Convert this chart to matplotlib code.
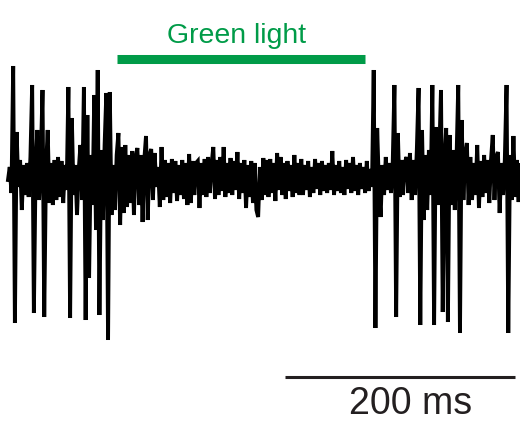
import numpy as np
import matplotlib
matplotlib.use("Agg")
import matplotlib.pyplot as plt

# extracellular trace, one sample every 1.5 ms (arbitrary units, 0 = baseline)
dt = 1.5
trace = [
    -5, 8, -18, 109, -148, 43, -12, 15, -35, 10,
    -20, 12, -22, 18, 90, -138, 8, 45, -25, 14,
    85, -142, 5, 45, -28, 12, -30, 15, -25, 18,
    -22, 14, -28, 10, -15, 88, -143, 57, -20, 10,
    -40, 5, 30, -25, 88, -145, 60, -103, 20, -30,
    80, -55, 105, -140, 25, -45, 30, 82, -165, 83,
    -40, 10, -35, 20, 42, -50, 28, -38, 30, -32,
    20, -28, 24, -40, 18, 27, -30, 20, -47, 15,
    39, -45, 20, 26, -25, 22, -12, 8, -32, 28,
    -25, 15, -22, 12, -28, 16, -18, 14, -26, 10,
    -20, 15, -24, 12, -30, 21, -28, 14, -20, 12,
    14, -33, 12, -20, 16, -22, 18, -18, 10, 28,
    -24, 15, -20, 18, -16, 28, -22, 12, -18, 17,
    -20, 14, -15, 23, -24, 12, -18, 15, -33, 10,
    -22, 14, -28, 12, -35, -42, 8, -25, 17, -20,
    15, -22, 16, -18, 12, -26, 22, -15, 18, -20,
    12, -24, 14, -16, 10, -22, 20, -18, 12, -20,
    16, -20, 10, -15, 14, -22, 8, -18, 16, -14,
    12, -20, 14, -16, 10, -18, 12, -15, 24, -20,
    10, -16, 14, -18, 8, -20, 15, -14, 12, -18,
    18, -16, 10, -20, 12, -14, 8, -18, 14, -16,
    6, -12, 105, -153, 47, -10, -42, 10, -20, 18,
    -15, 12, -18, 10, 90, -142, 42, -22, 15, -20,
    12, 18, -18, 22, -25, 15, -20, 25, 87, -150,
    45, -45, 20, -35, 25, -20, 90, -150, 48, -30,
    20, 85, -137, 15, 47, -147, 40, -30, 25, -35,
    15, 90, -158, 55, -25, 20, 32, -30, 18, -25,
    12, -20, 30, -33, 14, -22, 20, -18, 15, -28,
    15, 40, -25, 18, 23, -38, 12, -20, 15, 90,
    -158, 20, -25, 39, -22, 15, -27, 10,
]

light_on = 95     # ms
light_off = 310   # ms
scale_ms = 200
scale_start = 241

green = "#009b48"
t = np.arange(len(trace)) * dt

fig = plt.figure(figsize=(5.2, 4.21), dpi=100)
ax = fig.add_axes([0, 0, 1, 1])
ax.plot(t, trace, color="black", lw=2.8, solid_joinstyle="miter")

# light stimulus bar
ax.plot([light_on, light_off], [115.5, 115.5], color=green, lw=6.5,
        solid_capstyle="butt")
ax.text((light_on + light_off) / 2 - 4, 132, "Green light", color=green,
        ha="center", va="baseline", fontsize=20.5, family="Liberation Sans")

# time scale bar
ax.plot([scale_start, scale_start + scale_ms], [-202, -202], color="#231f20",
        lw=2.2, solid_capstyle="butt")
ax.text(scale_start + scale_ms / 2 + 9, -239, "%d ms" % scale_ms,
        color="#231f20", ha="center", va="baseline", fontsize=27,
        family="Liberation Sans")

ax.set_xlim(-6.96, 445.2)
ax.set_ylim(-246, 175)
ax.axis("off")

fig.savefig("out.png", dpi=100)
